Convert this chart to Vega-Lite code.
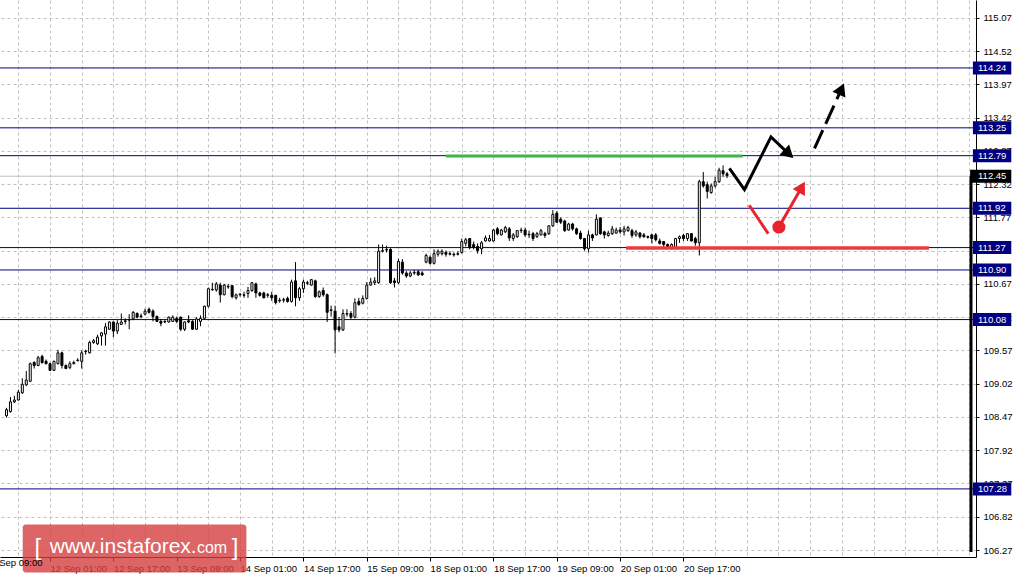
{
  "$schema": "https://vega.github.io/schema/vega-lite/v6.json",
  "width": 976,
  "height": 557,
  "autosize": {"type": "none"},
  "padding": {"left": 0, "top": 0, "right": 42, "bottom": 23},
  "background": "#ffffff",
  "config": {"view": {"stroke": null}},
  "resolve": {"axis": {"x": "independent", "y": "independent"}},
  "datasets": {
    "candles": [
      {"i":0,"o":108.49,"h":108.62,"l":108.46,"c":108.59},
      {"i":1,"o":108.56,"h":108.80,"l":108.54,"c":108.72},
      {"i":2,"o":108.72,"h":108.82,"l":108.70,"c":108.75},
      {"i":3,"o":108.75,"h":108.92,"l":108.74,"c":108.88},
      {"i":4,"o":108.87,"h":109.11,"l":108.85,"c":109.01},
      {"i":5,"o":109.00,"h":109.23,"l":108.98,"c":109.08},
      {"i":6,"o":109.06,"h":109.37,"l":109.05,"c":109.35},
      {"i":7,"o":109.37,"h":109.39,"l":109.27,"c":109.32},
      {"i":8,"o":109.32,"h":109.48,"l":109.31,"c":109.45},
      {"i":9,"o":109.47,"h":109.50,"l":109.35,"c":109.37},
      {"i":10,"o":109.39,"h":109.42,"l":109.34,"c":109.35},
      {"i":11,"o":109.35,"h":109.37,"l":109.23,"c":109.24},
      {"i":12,"o":109.24,"h":109.40,"l":109.23,"c":109.39},
      {"i":13,"o":109.35,"h":109.58,"l":109.34,"c":109.53},
      {"i":14,"o":109.53,"h":109.55,"l":109.27,"c":109.32},
      {"i":15,"o":109.32,"h":109.34,"l":109.26,"c":109.27},
      {"i":16,"o":109.29,"h":109.39,"l":109.26,"c":109.35},
      {"i":17,"o":109.35,"h":109.40,"l":109.34,"c":109.37},
      {"i":18,"o":109.40,"h":109.44,"l":109.39,"c":109.41},
      {"i":19,"o":109.39,"h":109.57,"l":109.27,"c":109.53},
      {"i":20,"o":109.55,"h":109.58,"l":109.50,"c":109.56},
      {"i":21,"o":109.53,"h":109.73,"l":109.52,"c":109.70},
      {"i":22,"o":109.70,"h":109.76,"l":109.68,"c":109.73},
      {"i":23,"o":109.68,"h":109.83,"l":109.66,"c":109.79},
      {"i":24,"o":109.81,"h":109.87,"l":109.65,"c":109.86},
      {"i":25,"o":109.84,"h":110.02,"l":109.65,"c":109.96},
      {"i":26,"o":109.92,"h":110.05,"l":109.91,"c":110.04},
      {"i":27,"o":110.04,"h":110.05,"l":109.79,"c":109.89},
      {"i":28,"o":109.89,"h":110.07,"l":109.84,"c":110.02},
      {"i":29,"o":110.00,"h":110.18,"l":109.99,"c":110.04},
      {"i":30,"o":110.05,"h":110.10,"l":110.00,"c":110.06},
      {"i":31,"o":110.07,"h":110.17,"l":109.92,"c":110.08},
      {"i":32,"o":110.09,"h":110.22,"l":110.07,"c":110.20},
      {"i":33,"o":110.18,"h":110.20,"l":110.10,"c":110.12},
      {"i":34,"o":110.13,"h":110.18,"l":110.10,"c":110.14},
      {"i":35,"o":110.17,"h":110.26,"l":110.15,"c":110.22},
      {"i":36,"o":110.25,"h":110.28,"l":110.18,"c":110.20},
      {"i":37,"o":110.22,"h":110.25,"l":110.05,"c":110.13},
      {"i":38,"o":110.13,"h":110.15,"l":110.04,"c":110.05},
      {"i":39,"o":110.05,"h":110.09,"l":109.97,"c":110.02},
      {"i":40,"o":110.04,"h":110.07,"l":110.02,"c":110.05},
      {"i":41,"o":110.04,"h":110.13,"l":110.03,"c":110.12},
      {"i":42,"o":110.05,"h":110.15,"l":110.04,"c":110.12},
      {"i":43,"o":110.10,"h":110.13,"l":110.02,"c":110.05},
      {"i":44,"o":110.12,"h":110.13,"l":109.89,"c":109.92},
      {"i":45,"o":109.92,"h":110.05,"l":109.89,"c":110.04},
      {"i":46,"o":110.06,"h":110.15,"l":110.02,"c":110.04},
      {"i":47,"o":110.05,"h":110.07,"l":109.91,"c":109.92},
      {"i":48,"o":109.92,"h":110.12,"l":109.91,"c":110.09},
      {"i":49,"o":110.05,"h":110.15,"l":109.97,"c":110.10},
      {"i":50,"o":110.10,"h":110.31,"l":110.09,"c":110.30},
      {"i":51,"o":110.30,"h":110.61,"l":110.28,"c":110.59},
      {"i":52,"o":110.57,"h":110.69,"l":110.56,"c":110.58},
      {"i":53,"o":110.57,"h":110.70,"l":110.54,"c":110.67},
      {"i":54,"o":110.65,"h":110.69,"l":110.36,"c":110.49},
      {"i":55,"o":110.49,"h":110.67,"l":110.48,"c":110.65},
      {"i":56,"o":110.62,"h":110.67,"l":110.59,"c":110.63},
      {"i":57,"o":110.64,"h":110.65,"l":110.43,"c":110.46},
      {"i":58,"o":110.44,"h":110.51,"l":110.41,"c":110.49},
      {"i":59,"o":110.49,"h":110.52,"l":110.46,"c":110.50},
      {"i":60,"o":110.48,"h":110.54,"l":110.44,"c":110.49},
      {"i":61,"o":110.51,"h":110.62,"l":110.44,"c":110.56},
      {"i":62,"o":110.56,"h":110.70,"l":110.54,"c":110.69},
      {"i":63,"o":110.67,"h":110.69,"l":110.44,"c":110.52},
      {"i":64,"o":110.52,"h":110.54,"l":110.46,"c":110.48},
      {"i":65,"o":110.52,"h":110.54,"l":110.43,"c":110.44},
      {"i":66,"o":110.48,"h":110.52,"l":110.44,"c":110.49},
      {"i":67,"o":110.48,"h":110.54,"l":110.39,"c":110.44},
      {"i":68,"o":110.48,"h":110.49,"l":110.33,"c":110.36},
      {"i":69,"o":110.39,"h":110.44,"l":110.36,"c":110.40},
      {"i":70,"o":110.40,"h":110.44,"l":110.36,"c":110.41},
      {"i":71,"o":110.43,"h":110.46,"l":110.36,"c":110.38},
      {"i":72,"o":110.38,"h":110.74,"l":110.36,"c":110.70},
      {"i":73,"o":110.72,"h":111.03,"l":110.30,"c":110.44},
      {"i":74,"o":110.44,"h":110.62,"l":110.39,"c":110.59},
      {"i":75,"o":110.59,"h":110.74,"l":110.52,"c":110.70},
      {"i":76,"o":110.68,"h":110.72,"l":110.65,"c":110.69},
      {"i":77,"o":110.65,"h":110.75,"l":110.64,"c":110.74},
      {"i":78,"o":110.72,"h":110.74,"l":110.44,"c":110.46},
      {"i":79,"o":110.46,"h":110.56,"l":110.44,"c":110.54},
      {"i":80,"o":110.56,"h":110.61,"l":110.46,"c":110.49},
      {"i":81,"o":110.49,"h":110.51,"l":110.04,"c":110.20},
      {"i":82,"o":110.23,"h":110.31,"l":110.13,"c":110.24},
      {"i":83,"o":110.22,"h":110.31,"l":109.52,"c":109.91},
      {"i":84,"o":109.96,"h":110.12,"l":109.87,"c":109.91},
      {"i":85,"o":109.91,"h":110.25,"l":109.89,"c":110.18},
      {"i":86,"o":110.17,"h":110.25,"l":110.13,"c":110.18},
      {"i":87,"o":110.18,"h":110.22,"l":110.09,"c":110.12},
      {"i":88,"o":110.12,"h":110.43,"l":110.10,"c":110.36},
      {"i":89,"o":110.38,"h":110.44,"l":110.31,"c":110.33},
      {"i":90,"o":110.35,"h":110.48,"l":110.33,"c":110.43},
      {"i":91,"o":110.43,"h":110.70,"l":110.41,"c":110.65},
      {"i":92,"o":110.65,"h":110.77,"l":110.64,"c":110.70},
      {"i":93,"o":110.69,"h":110.78,"l":110.65,"c":110.72},
      {"i":94,"o":110.69,"h":111.32,"l":110.67,"c":111.21},
      {"i":95,"o":111.21,"h":111.32,"l":111.19,"c":111.22},
      {"i":96,"o":111.23,"h":111.30,"l":111.19,"c":111.24},
      {"i":97,"o":111.24,"h":111.26,"l":110.67,"c":110.69},
      {"i":98,"o":110.72,"h":110.77,"l":110.61,"c":110.69},
      {"i":99,"o":110.69,"h":111.09,"l":110.67,"c":111.04},
      {"i":100,"o":111.03,"h":111.08,"l":110.82,"c":110.85},
      {"i":101,"o":110.85,"h":110.88,"l":110.77,"c":110.80},
      {"i":102,"o":110.80,"h":110.88,"l":110.78,"c":110.85},
      {"i":103,"o":110.85,"h":110.90,"l":110.82,"c":110.86},
      {"i":104,"o":110.87,"h":110.90,"l":110.80,"c":110.82},
      {"i":105,"o":110.85,"h":110.88,"l":110.80,"c":110.82},
      {"i":106,"o":111.03,"h":111.17,"l":111.01,"c":111.14},
      {"i":107,"o":111.11,"h":111.14,"l":110.99,"c":111.01},
      {"i":108,"o":111.01,"h":111.24,"l":110.99,"c":111.17},
      {"i":109,"o":111.16,"h":111.24,"l":111.12,"c":111.21},
      {"i":110,"o":111.17,"h":111.24,"l":111.14,"c":111.21},
      {"i":111,"o":111.19,"h":111.22,"l":111.12,"c":111.16},
      {"i":112,"o":111.17,"h":111.21,"l":111.14,"c":111.16},
      {"i":113,"o":111.16,"h":111.19,"l":111.12,"c":111.15},
      {"i":114,"o":111.17,"h":111.21,"l":111.14,"c":111.16},
      {"i":115,"o":111.19,"h":111.42,"l":111.17,"c":111.37},
      {"i":116,"o":111.34,"h":111.43,"l":111.29,"c":111.40},
      {"i":117,"o":111.42,"h":111.43,"l":111.24,"c":111.27},
      {"i":118,"o":111.32,"h":111.37,"l":111.24,"c":111.27},
      {"i":119,"o":111.29,"h":111.34,"l":111.17,"c":111.22},
      {"i":120,"o":111.25,"h":111.38,"l":111.16,"c":111.35},
      {"i":121,"o":111.38,"h":111.47,"l":111.37,"c":111.43},
      {"i":122,"o":111.38,"h":111.48,"l":111.37,"c":111.42},
      {"i":123,"o":111.38,"h":111.58,"l":111.37,"c":111.56},
      {"i":124,"o":111.58,"h":111.61,"l":111.47,"c":111.50},
      {"i":125,"o":111.48,"h":111.58,"l":111.47,"c":111.56},
      {"i":126,"o":111.53,"h":111.63,"l":111.51,"c":111.60},
      {"i":127,"o":111.58,"h":111.61,"l":111.38,"c":111.43},
      {"i":128,"o":111.42,"h":111.51,"l":111.38,"c":111.48},
      {"i":129,"o":111.45,"h":111.56,"l":111.43,"c":111.55},
      {"i":130,"o":111.55,"h":111.60,"l":111.51,"c":111.56},
      {"i":131,"o":111.56,"h":111.60,"l":111.45,"c":111.48},
      {"i":132,"o":111.48,"h":111.55,"l":111.43,"c":111.49},
      {"i":133,"o":111.50,"h":111.53,"l":111.38,"c":111.42},
      {"i":134,"o":111.45,"h":111.53,"l":111.43,"c":111.50},
      {"i":135,"o":111.48,"h":111.58,"l":111.47,"c":111.55},
      {"i":136,"o":111.50,"h":111.53,"l":111.43,"c":111.47},
      {"i":137,"o":111.50,"h":111.64,"l":111.48,"c":111.63},
      {"i":138,"o":111.63,"h":111.89,"l":111.61,"c":111.82},
      {"i":139,"o":111.84,"h":111.87,"l":111.68,"c":111.69},
      {"i":140,"o":111.74,"h":111.77,"l":111.66,"c":111.69},
      {"i":141,"o":111.71,"h":111.73,"l":111.53,"c":111.55},
      {"i":142,"o":111.56,"h":111.68,"l":111.55,"c":111.66},
      {"i":143,"o":111.66,"h":111.68,"l":111.55,"c":111.58},
      {"i":144,"o":111.58,"h":111.60,"l":111.48,"c":111.50},
      {"i":145,"o":111.51,"h":111.55,"l":111.40,"c":111.42},
      {"i":146,"o":111.42,"h":111.43,"l":111.22,"c":111.25},
      {"i":147,"o":111.25,"h":111.55,"l":111.19,"c":111.48},
      {"i":148,"o":111.48,"h":111.50,"l":111.38,"c":111.43},
      {"i":149,"o":111.48,"h":111.82,"l":111.47,"c":111.74},
      {"i":150,"o":111.76,"h":111.77,"l":111.48,"c":111.50},
      {"i":151,"o":111.53,"h":111.55,"l":111.42,"c":111.48},
      {"i":152,"o":111.47,"h":111.55,"l":111.45,"c":111.51},
      {"i":153,"o":111.50,"h":111.63,"l":111.48,"c":111.58},
      {"i":154,"o":111.51,"h":111.60,"l":111.50,"c":111.56},
      {"i":155,"o":111.56,"h":111.61,"l":111.50,"c":111.53},
      {"i":156,"o":111.53,"h":111.63,"l":111.47,"c":111.58},
      {"i":157,"o":111.55,"h":111.63,"l":111.53,"c":111.60},
      {"i":158,"o":111.55,"h":111.58,"l":111.43,"c":111.47},
      {"i":159,"o":111.48,"h":111.56,"l":111.45,"c":111.53},
      {"i":160,"o":111.51,"h":111.53,"l":111.42,"c":111.45},
      {"i":161,"o":111.48,"h":111.51,"l":111.43,"c":111.45},
      {"i":162,"o":111.45,"h":111.47,"l":111.42,"c":111.44},
      {"i":163,"o":111.48,"h":111.50,"l":111.34,"c":111.42},
      {"i":164,"o":111.48,"h":111.51,"l":111.37,"c":111.40},
      {"i":165,"o":111.38,"h":111.42,"l":111.32,"c":111.34},
      {"i":166,"o":111.37,"h":111.38,"l":111.27,"c":111.32},
      {"i":167,"o":111.32,"h":111.34,"l":111.25,"c":111.27},
      {"i":168,"o":111.27,"h":111.34,"l":111.24,"c":111.32},
      {"i":169,"o":111.27,"h":111.43,"l":111.25,"c":111.42},
      {"i":170,"o":111.42,"h":111.47,"l":111.35,"c":111.45},
      {"i":171,"o":111.47,"h":111.50,"l":111.38,"c":111.42},
      {"i":172,"o":111.42,"h":111.51,"l":111.38,"c":111.50},
      {"i":173,"o":111.50,"h":111.51,"l":111.37,"c":111.38},
      {"i":174,"o":111.42,"h":111.45,"l":111.30,"c":111.35},
      {"i":175,"o":111.35,"h":112.39,"l":111.14,"c":112.36},
      {"i":176,"o":112.36,"h":112.52,"l":112.26,"c":112.29},
      {"i":177,"o":112.31,"h":112.36,"l":112.08,"c":112.20},
      {"i":178,"o":112.18,"h":112.33,"l":112.16,"c":112.29},
      {"i":179,"o":112.29,"h":112.44,"l":112.26,"c":112.36},
      {"i":180,"o":112.36,"h":112.59,"l":112.34,"c":112.55},
      {"i":181,"o":112.54,"h":112.63,"l":112.44,"c":112.49},
      {"i":182,"o":112.49,"h":112.52,"l":112.42,"c":112.46}
    ],
    "levels": [{"p":114.24},{"p":113.25},{"p":112.79},{"p":111.92},{"p":111.27},{"p":110.90},{"p":110.08},{"p":107.28}],
    "current": [{"p":112.45}],
    "green": [{"i":111,"i2":186,"p":112.785}],
    "redline": [{"i":156.5,"i2":233,"p":111.265}],
    "zigzag": [{"k":1,"i":182.6,"p":112.58},{"k":2,"i":186.4,"p":112.23},{"k":3,"i":193.1,"p":113.10},{"k":4,"i":197.6,"p":112.82}],
    "dashed": [{"k":1,"i":204.1,"p":112.91},{"k":2,"i":210.9,"p":113.89}],
    "redseg": [{"k":1,"i":187.6,"p":111.97},{"k":2,"i":192.4,"p":111.50}],
    "redarrow": [{"k":1,"i":195.1,"p":111.61},{"k":2,"i":200.9,"p":112.27}],
    "reddot": [{"i":195.1,"p":111.61}],
    "head1": [{"i":197.6,"p":112.82}],
    "head2": [{"i":210.9,"p":113.89}],
    "head3": [{"i":200.9,"p":112.27}]
  },
  "layer": [
    {
      "data": {"name": "candles"},
      "mark": {"type": "rule", "color": "#000000", "strokeWidth": 1, "opacity": 0},
      "encoding": {
        "x": {"field": "i", "type": "quantitative", "scale": {"domain": [-0.375, 243.625], "nice": false, "zero": false},
          "axis": {
            "title": null, "orient": "bottom", "zindex": 0,
            "values": [3,11,19,27,35,43,51,59,67,75,83,91,99,107,115,123,131,139,147,155,163,171,179,187,195,203,211,219,227,235,243],
            "grid": true, "gridColor": "#c0c0c0", "gridDash": [3,3], "gridWidth": 1,
            "domain": true, "domainColor": "#000000", "domainWidth": 1,
            "ticks": true, "tickSize": 4, "tickWidth": 1,
            "tickColor": {"condition": {"test": "(datum.value - 11) % 16 === 0 && datum.value <= 171", "value": "#000000"}, "value": "transparent"},
            "labelExpr": "((datum.value - 11) % 16 === 0 && datum.value <= 171) ? ['12 Sep 01:00','12 Sep 17:00','13 Sep 09:00','14 Sep 01:00','14 Sep 17:00','15 Sep 09:00','18 Sep 01:00','18 Sep 17:00','19 Sep 09:00','20 Sep 01:00','20 Sep 17:00'][(datum.value - 11) / 16] : ''",
            "labelAlign": "left", "labelBaseline": "top", "labelPadding": 2,
            "labelFont": "Liberation Sans", "labelFontSize": 9.5, "labelColor": "#000000",
            "labelFlush": false, "labelOverlap": false, "labelBound": false
          }
        },
        "y": {"field": "l", "type": "quantitative", "scale": {"domain": [106.237, 115.281], "nice": false, "zero": false},
          "axis": {
            "title": null, "orient": "right", "zindex": 0,
            "values": [106.27,106.82,107.37,107.92,108.47,109.02,109.57,110.12,110.67,111.22,111.77,112.32,112.87,113.42,113.97,114.52,115.07],
            "format": ".2f",
            "grid": true, "gridColor": "#c0c0c0", "gridDash": [3,3], "gridWidth": 1,
            "domain": true, "domainColor": "#000000", "domainWidth": 1,
            "ticks": true, "tickColor": "#000000", "tickSize": 3,
            "labelPadding": 4, "labelAlign": "left", "labelBaseline": "middle",
            "labelFont": "Liberation Sans", "labelFontSize": 9.5, "labelColor": "#000000",
            "labelFlush": false, "labelOverlap": false, "labelBound": false
          }
        },
        "y2": {"field": "h"}
      }
    },
    {
      "data": {"name": "levels"},
      "mark": {"type": "rule", "color": "#000080", "strokeWidth": 1},
      "encoding": {
        "y": {"field": "p", "type": "quantitative", "scale": {"domain": [106.237, 115.281], "nice": false, "zero": false}, "axis": null}
      }
    },
    {
      "data": {"name": "current"},
      "mark": {"type": "rule", "color": "#c0c0c0", "strokeWidth": 1},
      "encoding": {
        "y": {"field": "p", "type": "quantitative", "scale": {"domain": [106.237, 115.281], "nice": false, "zero": false}, "axis": null}
      }
    },
    {
      "data": {"name": "candles"},
      "mark": {"type": "rule", "color": "#000000", "strokeWidth": 1},
      "encoding": {
        "x": {"field": "i", "type": "quantitative", "scale": {"domain": [-0.375, 243.625], "nice": false, "zero": false}, "axis": null},
        "y": {"field": "l", "type": "quantitative", "scale": {"domain": [106.237, 115.281], "nice": false, "zero": false}, "axis": null},
        "y2": {"field": "h"}
      }
    },
    {
      "data": {"name": "candles"},
      "mark": {"type": "bar", "size": 2, "stroke": "#000000", "strokeWidth": 1},
      "encoding": {
        "x": {"field": "i", "type": "quantitative", "scale": {"domain": [-0.375, 243.625], "nice": false, "zero": false}, "axis": null},
        "y": {"field": "o", "type": "quantitative", "scale": {"domain": [106.237, 115.281], "nice": false, "zero": false}, "axis": null},
        "y2": {"field": "c"},
        "fill": {"condition": {"test": "datum.c >= datum.o", "value": "#ffffff"}, "value": "#000000"}
      }
    },
    {
      "data": {"name": "green"},
      "mark": {"type": "rule", "color": "#3cb54a", "strokeWidth": 3},
      "encoding": {
        "x": {"field": "i", "type": "quantitative", "scale": {"domain": [-0.375, 243.625], "nice": false, "zero": false}, "axis": null},
        "x2": {"field": "i2"},
        "y": {"field": "p", "type": "quantitative", "scale": {"domain": [106.237, 115.281], "nice": false, "zero": false}, "axis": null}
      }
    },
    {
      "data": {"name": "redline"},
      "mark": {"type": "rule", "color": "#ec3a42", "strokeWidth": 3.5},
      "encoding": {
        "x": {"field": "i", "type": "quantitative", "scale": {"domain": [-0.375, 243.625], "nice": false, "zero": false}, "axis": null},
        "x2": {"field": "i2"},
        "y": {"field": "p", "type": "quantitative", "scale": {"domain": [106.237, 115.281], "nice": false, "zero": false}, "axis": null}
      }
    },
    {
      "data": {"name": "zigzag"},
      "mark": {"type": "line", "color": "#000000", "strokeWidth": 3, "strokeJoin": "miter"},
      "encoding": {
        "x": {"field": "i", "type": "quantitative", "scale": {"domain": [-0.375, 243.625], "nice": false, "zero": false}, "axis": null},
        "y": {"field": "p", "type": "quantitative", "scale": {"domain": [106.237, 115.281], "nice": false, "zero": false}, "axis": null},
        "order": {"field": "k"}
      }
    },
    {
      "data": {"name": "dashed"},
      "mark": {"type": "line", "color": "#000000", "strokeWidth": 3, "strokeDash": [20, 7]},
      "encoding": {
        "x": {"field": "i", "type": "quantitative", "scale": {"domain": [-0.375, 243.625], "nice": false, "zero": false}, "axis": null},
        "y": {"field": "p", "type": "quantitative", "scale": {"domain": [106.237, 115.281], "nice": false, "zero": false}, "axis": null},
        "order": {"field": "k"}
      }
    },
    {
      "data": {"name": "redseg"},
      "mark": {"type": "line", "color": "#e8232d", "strokeWidth": 3},
      "encoding": {
        "x": {"field": "i", "type": "quantitative", "scale": {"domain": [-0.375, 243.625], "nice": false, "zero": false}, "axis": null},
        "y": {"field": "p", "type": "quantitative", "scale": {"domain": [106.237, 115.281], "nice": false, "zero": false}, "axis": null},
        "order": {"field": "k"}
      }
    },
    {
      "data": {"name": "redarrow"},
      "mark": {"type": "line", "color": "#e8232d", "strokeWidth": 3},
      "encoding": {
        "x": {"field": "i", "type": "quantitative", "scale": {"domain": [-0.375, 243.625], "nice": false, "zero": false}, "axis": null},
        "y": {"field": "p", "type": "quantitative", "scale": {"domain": [106.237, 115.281], "nice": false, "zero": false}, "axis": null},
        "order": {"field": "k"}
      }
    },
    {
      "data": {"name": "reddot"},
      "mark": {"type": "point", "shape": "circle", "filled": true, "color": "#e8232d", "opacity": 1, "size": 170},
      "encoding": {
        "x": {"field": "i", "type": "quantitative", "scale": {"domain": [-0.375, 243.625], "nice": false, "zero": false}, "axis": null},
        "y": {"field": "p", "type": "quantitative", "scale": {"domain": [106.237, 115.281], "nice": false, "zero": false}, "axis": null}
      }
    },
    {
      "data": {"name": "head1"},
      "mark": {"type": "point", "shape": "triangle-right", "filled": true, "color": "#000000", "opacity": 1, "size": 200, "angle": 42.7},
      "encoding": {
        "x": {"field": "i", "type": "quantitative", "scale": {"domain": [-0.375, 243.625], "nice": false, "zero": false}, "axis": null},
        "y": {"field": "p", "type": "quantitative", "scale": {"domain": [106.237, 115.281], "nice": false, "zero": false}, "axis": null}
      }
    },
    {
      "data": {"name": "head2"},
      "mark": {"type": "point", "shape": "triangle-right", "filled": true, "color": "#000000", "opacity": 1, "size": 200, "angle": 294},
      "encoding": {
        "x": {"field": "i", "type": "quantitative", "scale": {"domain": [-0.375, 243.625], "nice": false, "zero": false}, "axis": null},
        "y": {"field": "p", "type": "quantitative", "scale": {"domain": [106.237, 115.281], "nice": false, "zero": false}, "axis": null}
      }
    },
    {
      "data": {"name": "head3"},
      "mark": {"type": "point", "shape": "triangle-right", "filled": true, "color": "#e8232d", "opacity": 1, "size": 200, "angle": 299.7},
      "encoding": {
        "x": {"field": "i", "type": "quantitative", "scale": {"domain": [-0.375, 243.625], "nice": false, "zero": false}, "axis": null},
        "y": {"field": "p", "type": "quantitative", "scale": {"domain": [106.237, 115.281], "nice": false, "zero": false}, "axis": null}
      }
    },
    {
      "data": {"name": "current"},
      "mark": {"type": "rule", "color": "#000000", "strokeWidth": 3},
      "encoding": {
        "x": {"datum": 243.625, "type": "quantitative", "scale": {"domain": [-0.375, 243.625], "nice": false, "zero": false}, "axis": null},
        "y": {"field": "p", "type": "quantitative", "scale": {"domain": [106.237, 115.281], "nice": false, "zero": false}, "axis": null},
        "y2": {"datum": 106.237}
      }
    },
    {
      "data": {"name": "levels"},
      "mark": {"type": "bar", "orient": "horizontal", "size": 13, "color": "#000080"},
      "encoding": {
        "x": {"datum": 244.1, "type": "quantitative", "scale": {"domain": [-0.375, 243.625], "nice": false, "zero": false}, "axis": null},
        "x2": {"datum": 253.8},
        "y": {"field": "p", "type": "quantitative", "scale": {"domain": [106.237, 115.281], "nice": false, "zero": false}, "axis": null}
      }
    },
    {
      "data": {"name": "levels"},
      "mark": {"type": "text", "align": "left", "baseline": "middle", "color": "#ffffff", "font": "Liberation Sans", "fontSize": 9.5},
      "encoding": {
        "x": {"datum": 245.4, "type": "quantitative", "scale": {"domain": [-0.375, 243.625], "nice": false, "zero": false}, "axis": null},
        "y": {"field": "p", "type": "quantitative", "scale": {"domain": [106.237, 115.281], "nice": false, "zero": false}, "axis": null},
        "text": {"field": "p", "type": "quantitative", "format": ".2f"}
      }
    },
    {
      "data": {"name": "current"},
      "mark": {"type": "bar", "orient": "horizontal", "size": 13, "color": "#000000"},
      "encoding": {
        "x": {"datum": 243.4, "type": "quantitative", "scale": {"domain": [-0.375, 243.625], "nice": false, "zero": false}, "axis": null},
        "x2": {"datum": 253.8},
        "y": {"field": "p", "type": "quantitative", "scale": {"domain": [106.237, 115.281], "nice": false, "zero": false}, "axis": null}
      }
    },
    {
      "data": {"name": "current"},
      "mark": {"type": "text", "align": "left", "baseline": "middle", "color": "#ffffff", "font": "Liberation Sans", "fontSize": 9.5},
      "encoding": {
        "x": {"datum": 245.4, "type": "quantitative", "scale": {"domain": [-0.375, 243.625], "nice": false, "zero": false}, "axis": null},
        "y": {"field": "p", "type": "quantitative", "scale": {"domain": [106.237, 115.281], "nice": false, "zero": false}, "axis": null},
        "text": {"field": "p", "type": "quantitative", "format": ".2f"}
      }
    },
    {
      "data": {"values": [{"t": "[ www.instaforex.com ]"}]},
      "mark": {"type": "rect", "color": "#d43f3f", "opacity": 0.8, "cornerRadius": 3},
      "encoding": {
        "x": {"datum": 4.1, "type": "quantitative", "scale": {"domain": [-0.375, 243.625], "nice": false, "zero": false}, "axis": null},
        "x2": {"datum": 60.6},
        "y": {"datum": 106.692, "type": "quantitative", "scale": {"domain": [106.237, 115.281], "nice": false, "zero": false}, "axis": null},
        "y2": {"datum": 105.896}
      }
    },
    {
      "data": {"values": [{"t": "["}]},
      "mark": {"type": "text", "align": "left", "baseline": "alphabetic", "color": "#ffffff", "font": "Liberation Sans", "fontSize": 24},
      "encoding": {
        "x": {"datum": 7.1, "type": "quantitative", "scale": {"domain": [-0.375, 243.625], "nice": false, "zero": false}, "axis": null},
        "y": {"datum": 106.19, "type": "quantitative", "scale": {"domain": [106.237, 115.281], "nice": false, "zero": false}, "axis": null},
        "text": {"field": "t"}
      }
    },
    {
      "data": {"values": [{"t": "www.instaforex."}]},
      "mark": {"type": "text", "align": "left", "baseline": "alphabetic", "color": "#ffffff", "font": "Liberation Sans", "fontSize": 21},
      "encoding": {
        "x": {"datum": 10.9, "type": "quantitative", "scale": {"domain": [-0.375, 243.625], "nice": false, "zero": false}, "axis": null},
        "y": {"datum": 106.221, "type": "quantitative", "scale": {"domain": [106.237, 115.281], "nice": false, "zero": false}, "axis": null},
        "text": {"field": "t"}
      }
    },
    {
      "data": {"values": [{"t": "com"}]},
      "mark": {"type": "text", "align": "left", "baseline": "alphabetic", "color": "#ffffff", "font": "Liberation Sans", "fontSize": 16},
      "encoding": {
        "x": {"datum": 48.1, "type": "quantitative", "scale": {"domain": [-0.375, 243.625], "nice": false, "zero": false}, "axis": null},
        "y": {"datum": 106.221, "type": "quantitative", "scale": {"domain": [106.237, 115.281], "nice": false, "zero": false}, "axis": null},
        "text": {"field": "t"}
      }
    },
    {
      "data": {"values": [{"t": "]"}]},
      "mark": {"type": "text", "align": "left", "baseline": "alphabetic", "color": "#ffffff", "font": "Liberation Sans", "fontSize": 24},
      "encoding": {
        "x": {"datum": 56.9, "type": "quantitative", "scale": {"domain": [-0.375, 243.625], "nice": false, "zero": false}, "axis": null},
        "y": {"datum": 106.19, "type": "quantitative", "scale": {"domain": [106.237, 115.281], "nice": false, "zero": false}, "axis": null},
        "text": {"field": "t"}
      }
    },
    {
      "data": {"values": [{"t": "11 Sep 09:00"}]},
      "mark": {"type": "text", "align": "left", "baseline": "top", "color": "#000000", "font": "Liberation Sans", "fontSize": 9.5},
      "encoding": {
        "x": {"datum": -5, "type": "quantitative", "scale": {"domain": [-0.375, 243.625], "nice": false, "zero": false}, "axis": null},
        "y": {"datum": 106.14, "type": "quantitative", "scale": {"domain": [106.237, 115.281], "nice": false, "zero": false}, "axis": null},
        "text": {"field": "t"}
      }
    }
  ]
}
